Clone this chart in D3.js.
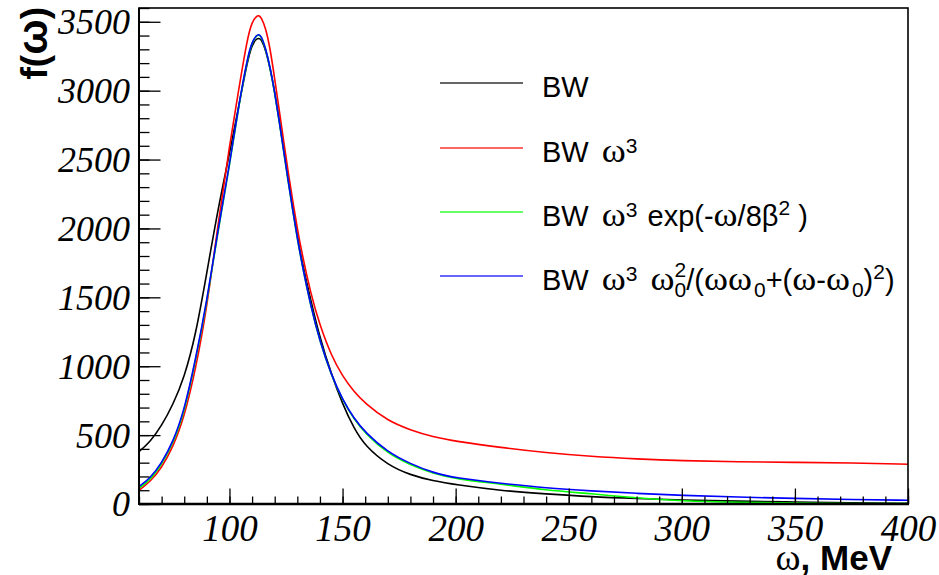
<!DOCTYPE html>
<html><head><meta charset="utf-8">
<script src="https://cdn.jsdelivr.net/npm/d3@7"></script>
<style>body{margin:0;background:#fff}svg{display:block}</style>
</head><body><svg id="c" width="939" height="575"></svg>
<script>
// ---- data ----
const omega     = [60,65,70,75,80,85,90,95,100,104,108,110,112,113,114,116,118,120,122,124,126,128,130,132,136,140,145,150,155,160,170,180,190,200,220,240,260,280,300,325,350,375,400];
const bw        = [380,452,568,720,918,1220,1680,2150,2540,2880,3220,3335,3378,3380,3375,3295,3160,2990,2790,2575,2355,2145,1945,1765,1475,1205,945,725,550,420,282,210,168,140,97,73,52,40,29,20,15,9,5];
const bwW3      = [100,163,262,412,630,975,1420,2040,2600,3000,3390,3500,3543,3545,3535,3455,3305,3085,2860,2630,2405,2195,2000,1823,1522,1295,1078,927,817,730,603,537,487,455,410,372,345,327,314,306,302,298,289];
const bwW3Exp   = [115,176,288,437,662,1040,1460,1990,2450,2880,3240,3352,3402,3405,3398,3305,3165,2985,2775,2555,2335,2125,1925,1745,1430,1178,935,754,617,513,365,283,222,182,145,100,75,43,22,12,6,4,3];
const bwW3Ratio = [126,188,297,449,677,1050,1470,2000,2460,2886,3245,3355,3405,3408,3400,3308,3168,2988,2780,2560,2340,2128,1930,1748,1432,1180,938,757,622,520,375,292,227,188,150,116,95,77,62,50,40,33,27];
const seriesColors = ["#000000","#ff0000","#00ff00","#0000ff"];
const xTicks = [100,150,200,250,300,350,400];
const yTicks = [0,500,1000,1500,2000,2500,3000,3500];
const xDomain = [60,400];
const yDomain = [0,3600];

const svg = d3.select("#c");
const L = 139, R = 908, T = 8, B = 504;
const x = d3.scaleLinear().domain(xDomain).range([L,R]);
const y = d3.scaleLinear().domain(yDomain).range([B,T]);

svg.append("defs").append("clipPath").attr("id","clip")
  .append("rect").attr("x",L).attr("y",T).attr("width",R-L).attr("height",B-T);

const seriesData = [bw,bwW3,bwW3Exp,bwW3Ratio];
const line = d3.line().x((d,i)=>x(omega[i])).y(d=>y(d)).curve(d3.curveBasis);
const g = svg.append("g").attr("clip-path","url(#clip)");
seriesData.forEach((s,k)=>{
  g.append("path").datum(s).attr("d",line).attr("fill","none")
   .attr("stroke",seriesColors[k]).attr("stroke-width",1.6);
});

// axes
const xMinor = d3.range(60,401,10);
const yMinor = d3.range(0,3601,100);
const xAx = svg.append("g").attr("transform",`translate(0,${B})`)
  .call(d3.axisBottom(x).tickValues(xMinor).tickSize(-7.5).tickFormat(""));
xAx.select(".domain").remove();
const xAxM = svg.append("g").attr("transform",`translate(0,${B})`)
  .call(d3.axisBottom(x).tickValues(xTicks).tickSize(-15.5).tickPadding(0).tickFormat(d3.format("d")));
xAxM.select(".domain").remove();
xAxM.selectAll("text").attr("y",37).attr("dy",0)
  .style("font-family","'Liberation Serif',serif").style("font-style","italic").style("font-size","37px").attr("fill","#000");

const yAx = svg.append("g").attr("transform",`translate(${L},0)`)
  .call(d3.axisLeft(y).tickValues(yMinor).tickSize(-10.5).tickFormat(""));
yAx.select(".domain").remove();
const yAxM = svg.append("g").attr("transform",`translate(${L},0)`)
  .call(d3.axisLeft(y).tickValues(yTicks).tickSize(-21.5).tickFormat(d3.format("d")));
yAxM.select(".domain").remove();
yAxM.selectAll("text").attr("x",-9).attr("dy","0.33em")
  .style("font-family","'Liberation Serif',serif").style("font-style","italic").style("font-size","36px").attr("fill","#000");
svg.selectAll(".tick line").attr("stroke","#000").attr("stroke-width",1.3);

// frame
svg.append("rect").attr("x",L).attr("y",T).attr("width",R-L).attr("height",B-T)
  .attr("fill","none").attr("stroke","#000").attr("stroke-width",1.6);
svg.append("line").attr("x1",L).attr("x2",R+1).attr("y1",B).attr("y2",B).attr("stroke","#000").attr("stroke-width",2.5);
svg.append("line").attr("x1",L).attr("x2",L).attr("y1",T).attr("y2",B+1).attr("stroke","#000").attr("stroke-width",2);

// axis titles
const xt = svg.append("text").attr("x",892).attr("y",570).attr("text-anchor","end")
  .style("font-family","'Liberation Sans',Arial,sans-serif").style("font-weight","bold").style("font-size","35px");
xt.append("tspan").style("font-family","'Liberation Serif',serif").style("font-weight","normal").style("font-size","38px").text("ω");
xt.append("tspan").text(", MeV");
const yt = svg.append("text").attr("transform","translate(47,7) rotate(-90)").attr("text-anchor","end")
  .style("font-family","'Liberation Sans',Arial,sans-serif").style("font-weight","bold").style("font-size","37px");
yt.append("tspan").text("f(");
yt.append("tspan").style("font-size","42px").text("ω");
yt.append("tspan").text(")");

// legend
const legendRows = [
  [{t:"BW"}],
  [{t:"BW ω"},{t:"3",k:"sup",r:-9}],
  [{t:"BW ω"},{t:"3",k:"sup",r:-9},{t:" exp(-ω/8β",gap:2},{t:"2",k:"sup",r:-11},{t:")",gap:8}],
  [{t:"BW ω"},{t:"3",k:"sup",r:-9},{t:" ω",gap:0},{t:"2",k:"sup",r:-13},{t:"0",k:"sub",back:true},{t:"/(ωω"},{t:"0",k:"sub",gap:2},{t:"+(ω-ω"},{t:"0",k:"sub",gap:2},{t:")"},{t:"2",k:"sup",r:-11},{t:")"}]
];
const legY = [83,148,212,276];
legendRows.forEach((segs,i)=>{
  svg.append("line").attr("x1",440).attr("x2",523).attr("y1",legY[i]).attr("y2",legY[i])
    .attr("stroke",seriesColors[i]).attr("stroke-width",1.5).attr("opacity",0.8);
  const t = svg.append("text").attr("x",542).attr("y",legY[i]+14)
    .style("font-family","'Liberation Sans',Arial,sans-serif").style("font-size","29px").attr("fill","#000");
  let cur = 0, prev = null;
  segs.forEach(s=>{
    const target = s.k==="sup" ? s.r : s.k==="sub" ? 7 : 0;
    if (s.k) {
      const ts = t.append("tspan").attr("dy",target-cur).style("font-size","21px").text(s.t);
      if (s.back && prev) ts.attr("dx",-prev.node().getComputedTextLength());
      else if (s.gap) ts.attr("dx",s.gap);
      prev = ts;
    } else {
      const parts = s.t.split(/(ω)/).filter(p=>p.length);
      let dxAcc = s.gap || 0;
      parts.forEach((p,j)=>{
        const ts = t.append("tspan").text(p);
        if (j===0) ts.attr("dy",target-cur);
        let dx = dxAcc; dxAcc = 0;
        if (p==="ω") {
          const before = j>0 ? parts[j-1] : "";
          if (before.endsWith(" ") || (j===0 && s.t.startsWith(" "))) dx += 5;
          ts.style("font-family","'Liberation Serif',serif").style("font-size","33px")
            .attr("textLength",24).attr("lengthAdjust","spacingAndGlyphs");
        }
        if (dx) ts.attr("dx",dx);
        prev = ts;
      });
    }
    cur = target;
  });
});
</script></body></html>
